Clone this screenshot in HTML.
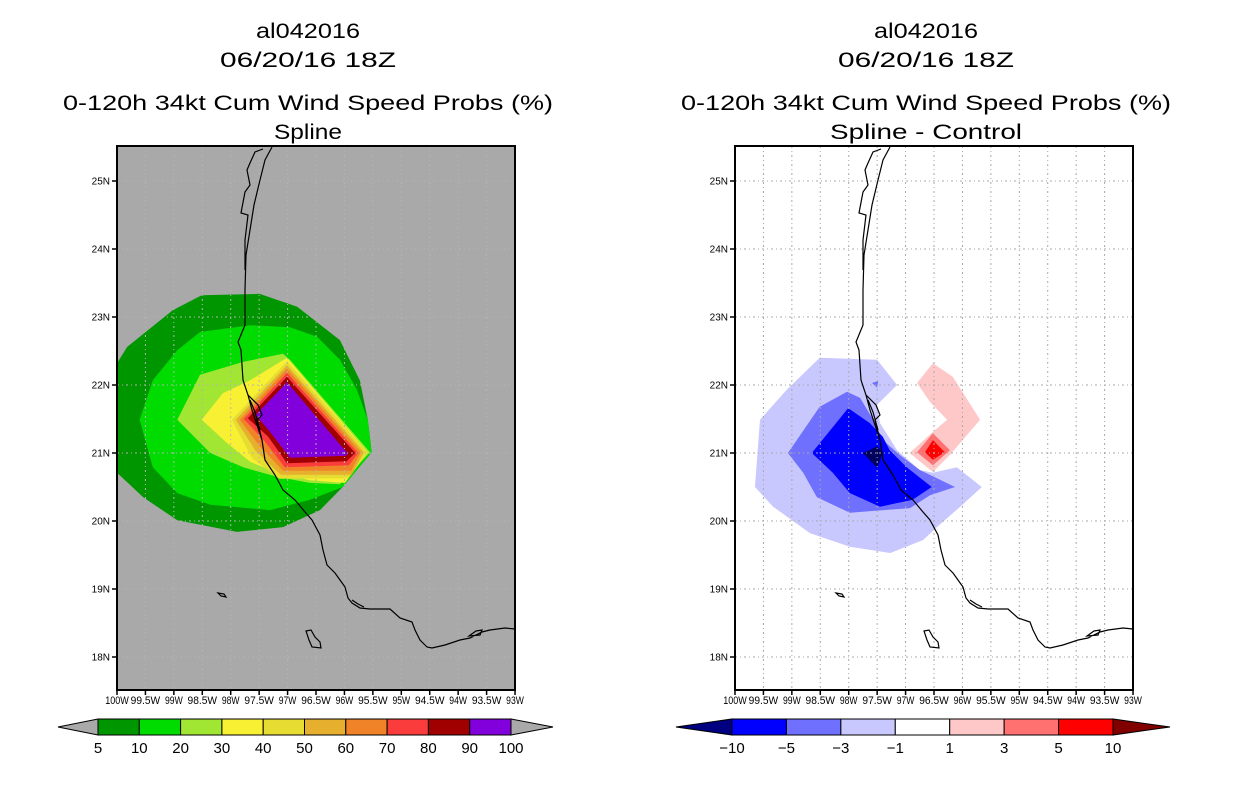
<!DOCTYPE html>
<html><head><meta charset="utf-8"><style>
html,body{margin:0;padding:0;background:#fff;}
svg{display:block;font-family:"Liberation Sans",sans-serif;}
</style></head><body>
<svg id="s" width="1236" height="800" viewBox="0 0 1236 800" xmlns="http://www.w3.org/2000/svg">
<rect width="1236" height="800" fill="#fff"/>
<g font-size="21" fill="#000" text-anchor="middle">
<text x="308" y="38" textLength="104" lengthAdjust="spacingAndGlyphs">al042016</text>
<text x="308" y="67" textLength="176" lengthAdjust="spacingAndGlyphs">06/20/16 18Z</text>
<text x="308" y="110" textLength="490" lengthAdjust="spacingAndGlyphs">0-120h 34kt Cum Wind Speed Probs (%)</text>
<text x="308" y="139" textLength="68" lengthAdjust="spacingAndGlyphs">Spline</text>
</g>
<g font-size="21" fill="#000" text-anchor="middle">
<text x="926" y="38" textLength="104" lengthAdjust="spacingAndGlyphs">al042016</text>
<text x="926" y="67" textLength="176" lengthAdjust="spacingAndGlyphs">06/20/16 18Z</text>
<text x="926" y="110" textLength="490" lengthAdjust="spacingAndGlyphs">0-120h 34kt Cum Wind Speed Probs (%)</text>
<text x="926" y="139" textLength="192" lengthAdjust="spacingAndGlyphs">Spline - Control</text>
</g>
<g id="left"></g>
<g id="right"></g>
<g id="cbl"></g>
<g id="cbr"></g>
</svg>
<script>
// ---- data ----
const latTicks = [25,24,23,22,21,20,19,18];
const lonTicks = [-100,-99.5,-99,-98.5,-98,-97.5,-97,-96.5,-96,-95.5,-95,-94.5,-94,-93.5,-93];
const lonLabels = ["100W","99.5W","99W","98.5W","98W","97.5W","97W","96.5W","96W","95.5W","95W","94.5W","94W","93.5W","93W"];
const latLabels = ["25N","24N","23N","22N","21N","20N","19N","18N"];

const leftLevels = [5,10,20,30,40,50,60,70,80,90,100];
const leftColors = ["#009600","#00dc00","#a0e632","#f8f032","#e6dc32","#e6af2d","#f08228","#fa3c3c","#a00000","#8200dc"];
const probPoly5 = [[-98.51,23.32],[-97.49,23.34],[-96.83,23.15],[-96.08,22.66],[-95.73,22.07],[-95.59,21.49],[-95.52,21.01],[-96.03,20.50],[-96.43,20.16],[-97.08,19.91],[-97.89,19.84],[-98.94,20.01],[-99.54,20.35],[-100,20.71],[-100,22.32],[-99.82,22.56],[-99.02,23.10]];
const probPoly10 = [[-98.54,22.78],[-97.66,22.88],[-96.96,22.85],[-96.48,22.71],[-96.08,22.37],[-95.78,21.93],[-95.59,21.49],[-95.52,21.01],[-96.03,20.50],[-96.61,20.31],[-97.31,20.16],[-98.36,20.24],[-98.94,20.41],[-99.37,20.79],[-99.60,21.49],[-99.37,22.07],[-98.94,22.51]];
const probPoly20 = [[-98.94,21.49],[-98.54,22.15],[-97.78,22.34],[-97.08,22.46],[-96.96,22.37],[-95.55,21.01],[-96.08,20.54],[-96.61,20.56],[-97.19,20.65],[-97.78,20.79],[-98.36,21.00]];
const probPoly30 = [[-98.51,21.49],[-98.14,21.88],[-97.66,22.07],[-97.01,22.40],[-95.59,21.01],[-95.99,20.56],[-96.61,20.60],[-97.19,20.71],[-97.66,20.87],[-98.07,21.15]];
const probPoly40 = [[-97.98,21.49],[-97.01,22.35],[-95.60,21.01],[-95.94,20.63],[-97.15,20.62],[-97.63,20.93]];
const probPoly50 = [[-97.91,21.49],[-97.01,22.29],[-95.66,21.01],[-95.87,20.68],[-97.12,20.68],[-97.56,21.03]];
const probPoly60 = [[-97.84,21.49],[-97.01,22.24],[-95.71,21.01],[-95.88,20.74],[-97.08,20.74],[-97.49,21.10]];
const probPoly70 = [[-97.77,21.50],[-97.01,22.18],[-95.76,21.00],[-95.92,20.82],[-97.05,20.79],[-97.41,21.18]];
const probPoly80 = [[-97.70,21.51],[-97.01,22.12],[-95.81,21.00],[-95.96,20.88],[-97.01,20.85],[-97.34,21.24]];
const probPoly90 = [[-97.56,21.56],[-97.01,22.04],[-95.94,20.99],[-95.97,20.96],[-96.96,20.93],[-97.31,21.31]];
const leftPolys = [probPoly5,probPoly10,probPoly20,probPoly30,probPoly40,probPoly50,probPoly60,probPoly70,probPoly80,probPoly90];

const rightLevels = [-10,-5,-3,-1,1,3,5,10];
const rightColors = ["#0000ff","#7070ff","#c8c8ff","#ffffff","#ffc8c8","#ff7070","#ff0000"];
const diffNeg1 = [[-98.51,22.40],[-97.50,22.37],[-97.15,22.00],[-97.50,21.71],[-97.45,21.44],[-97.15,21.04],[-96.75,20.75],[-96.52,20.71],[-96.10,20.79],[-95.66,20.50],[-96.04,20.21],[-96.45,19.91],[-96.69,19.72],[-97.27,19.53],[-97.98,19.62],[-98.68,19.82],[-99.33,20.21],[-99.65,20.50],[-99.56,21.49],[-99.09,21.93]];
const diffNeg3 = [[-99.07,21.00],[-98.51,21.68],[-98.03,21.90],[-97.80,21.81],[-97.57,21.49],[-97.40,21.19],[-97.10,20.97],[-96.75,20.75],[-96.13,20.50],[-96.57,20.38],[-96.92,20.19],[-97.98,20.12],[-98.56,20.35],[-98.80,20.71]];
const diffNeg3b = [[-97.59,22.03],[-97.48,22.06],[-97.50,21.96]];
const diffNeg5 = [[-98.65,21.00],[-98.01,21.66],[-97.63,21.44],[-97.40,21.24],[-97.28,21.04],[-96.98,20.79],[-96.54,20.50],[-96.88,20.31],[-97.45,20.21],[-97.98,20.41],[-98.28,20.71]];
const diffNeg10 = [[-97.75,21.00],[-97.50,21.10],[-97.40,21.00],[-97.50,20.78]];
const diffPos1 = [[-96.80,22.03],[-96.52,22.32],[-96.17,22.12],[-95.69,21.49],[-96.22,20.97],[-96.52,20.72],[-96.93,21.00],[-96.52,21.31],[-96.27,21.49],[-96.57,21.75]];
const diffPos3 = [[-96.52,21.29],[-96.22,21.04],[-96.52,20.82],[-96.80,21.01]];
const diffPos5 = [[-96.52,21.19],[-96.31,21.01],[-96.52,20.90],[-96.66,21.01]];
const rightPolys = [[diffNeg1,"#c8c8ff"],[diffNeg3,"#7070ff"],[diffNeg3b,"#7070ff"],[diffNeg5,"#0000ff"],[diffNeg10,"#000060"],[diffPos1,"#ffc8c8"],[diffPos3,"#ff7070"],[diffPos5,"#ff0000"]];

// ---- helpers ----
const NS="http://www.w3.org/2000/svg";
function mk(tag,attrs,parent){const e=document.createElementNS(NS,tag);for(const k in attrs)e.setAttribute(k,attrs[k]);parent.appendChild(e);return e;}
const PX=56.86, PY=68, TOP=146, BOT=690, W=398;
function xs(x0){return lon=>x0+(lon+100)*PX;}
function ys(lat){return 181+(25-lat)*PY;}
const coast="M272,147 L265,160 L260,180 L254,205 L250,230 L246,255 L245,290 L245,325 L238,342 L241,350 L243,380 L248,395 L252,410 L257,425 L262,440 L265,460 L275,475 L283,490 L295,500 L305,512 L312,520 L320,535 L323,550 L327,565 L335,573 L340,580 L345,587 L348,598 L352,603 L360,608 L370,609 L390,609 L400,618 L412,622 L415,630 L420,640 L427,647 L432,648 L445,645 L460,640 L470,638 L482,632 L490,630 L505,628 L515,629 M263,149 L255,152 L250,163 L247,170 L250,185 L245,192 L241,213 L248,215 L245,240 L245,270 M248,395 L258,405 L262,415 L257,420 L262,440 M250,400 L255,412 L260,430 M218,593 L224,594 L226,597 L221,596 Z M306,631 L311,630 L315,637 L320,642 L321,648 L312,647 L309,640 Z M352,600 L358,604 L364,607 M469,636 L476,631 L482,630 L480,635 Z";

function drawMap(g,x0,bg,polys){
  const X=xs(x0);
  const cid="clip"+x0;
  const cp=mk("clipPath",{id:cid},g);mk("rect",{x:x0,y:TOP,width:W,height:BOT-TOP},cp);
  const bgr=mk("rect",{x:x0,y:TOP,width:W,height:BOT-TOP,fill:bg},g);
  
  
  const pg=mk("g",{"clip-path":"url(#"+cid+")"},g);
  polys.forEach(([pts,col])=>{
    const p=mk("polygon",{points:pts.map(q=>X(q[0]).toFixed(1)+","+ys(q[1]).toFixed(1)).join(" "),fill:col},pg);
    
    
  });
  const gg=mk("g",{stroke:bg==="#ffffff"?"#a8a8a8":"#b4b4b4","stroke-width":1,"stroke-dasharray":"2,3,1,3"},g);
  
  
  lonTicks.slice(1,-1).forEach(l=>mk("line",{x1:X(l),y1:TOP,x2:X(l),y2:BOT},gg));
  latTicks.forEach(l=>mk("line",{x1:x0,y1:ys(l),x2:x0+W,y2:ys(l)},gg));
  const c=mk("path",{d:coast,fill:"none",stroke:"#000","stroke-width":1.2,transform:"translate("+(x0-117)+",0)"},g);
  
  
  const fr=mk("rect",{x:x0,y:TOP,width:W,height:BOT-TOP,fill:"none",stroke:"#000","stroke-width":2},g);
  
  
  latTicks.forEach((l,i)=>{
    mk("line",{x1:x0-5,y1:ys(l),x2:x0,y2:ys(l),stroke:"#000","stroke-width":1.5},g);
    const t=mk("text",{x:x0-7,y:ys(l)+3.5,"font-size":10,"text-anchor":"end"},g);
    t.textContent=latLabels[i];
    
    
  });
  lonTicks.forEach((l,i)=>{
    mk("line",{x1:X(l),y1:BOT,x2:X(l),y2:BOT+5,stroke:"#000","stroke-width":1.5},g);
    const t=mk("text",{x:X(l),y:BOT+14,"font-size":11,"text-anchor":"middle",textLength:lonLabels[i].length*5.9,lengthAdjust:"spacingAndGlyphs"},g);
    t.textContent=lonLabels[i];
    
    
  });
}
drawMap(document.getElementById("left"),117,"#a9a9a9",leftPolys.map((p,i)=>[p,leftColors[i]]));
drawMap(document.getElementById("right"),735,"#ffffff",rightPolys);

function drawBar(g,x1,x2,tipL,tipR,colors,labels,lc,rc){
  const y0=719,y1=735,n=colors.length,w=(x2-x1)/n,ym=(y0+y1)/2;
  const a=mk("polygon",{points:`${tipL},${ym} ${x1},${y0} ${x1},${y1}`,fill:lc,stroke:"#000","stroke-width":1},g);
  
  
  const b=mk("polygon",{points:`${tipR},${ym} ${x2},${y0} ${x2},${y1}`,fill:rc,stroke:"#000","stroke-width":1},g);
  
  
  colors.forEach((c,i)=>{
    const r=mk("rect",{x:x1+i*w,y:y0,width:w,height:y1-y0,fill:c,stroke:"#000","stroke-width":1},g);
    
    
  });
  labels.forEach((l,i)=>{
    const t=mk("text",{x:x1+i*w,y:753,"font-size":15,"text-anchor":"middle"},g);
    t.textContent=String(l).replace("-","\u2212");
    
    
  });
}
drawBar(document.getElementById("cbl"),98,511,58,553,leftColors,leftLevels,"#a9a9a9","#a9a9a9");
drawBar(document.getElementById("cbr"),732,1113,676,1170,rightColors,rightLevels,"#000080","#800000");
</script>
</body></html>
